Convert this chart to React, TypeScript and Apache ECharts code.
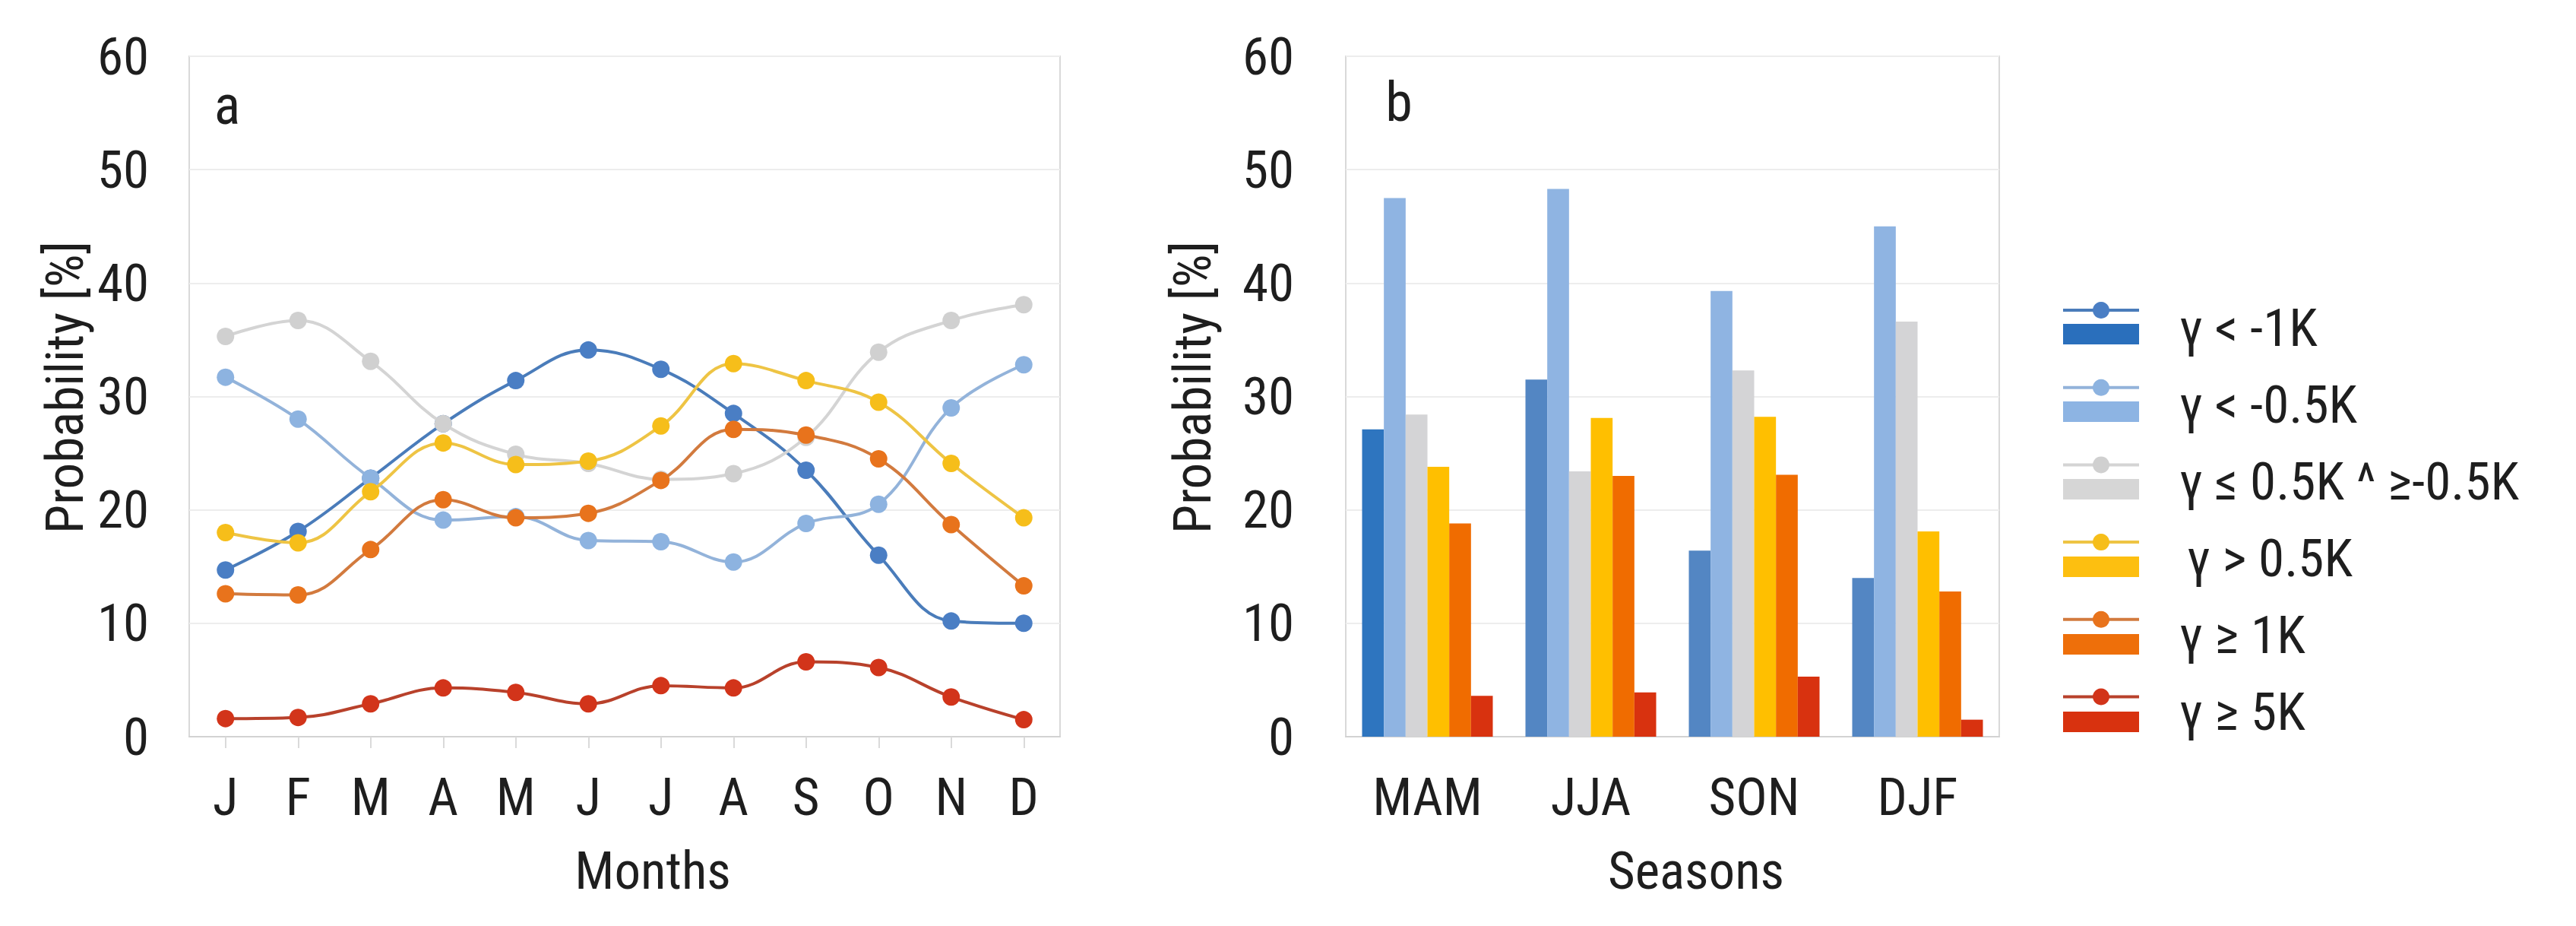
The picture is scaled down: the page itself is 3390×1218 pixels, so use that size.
import React, { useEffect, useRef } from "react";
import * as echarts from "echarts";

// ---------- data ----------
const months = ["J", "F", "M", "A", "M", "J", "J", "A", "S", "O", "N", "D"];
const seasons = ["MAM", "JJA", "SON", "DJF"];
const yTicks = [0, 10, 20, 30, 40, 50, 60];

const seriesNames = [
  "γ < -1K",
  "γ < -0.5K",
  "γ ≤ 0.5K ^ ≥-0.5K",
  "γ > 0.5K",
  "γ ≥ 1K",
  "γ ≥ 5K",
];

// panel a: monthly probabilities [%]
const monthLtMinus1 = [14.7, 18.1, 22.8, 27.6, 31.4, 34.1, 32.4, 28.5, 23.5, 16.0, 10.2, 10.0];
const monthLtMinus05 = [31.7, 28.0, 22.8, 19.1, 19.4, 17.3, 17.2, 15.4, 18.8, 20.5, 29.0, 32.8];
const monthNeutral = [35.3, 36.7, 33.1, 27.6, 24.9, 24.1, 22.7, 23.2, 26.4, 33.9, 36.7, 38.1];
const monthGt05 = [18.0, 17.1, 21.6, 25.9, 24.0, 24.3, 27.4, 32.9, 31.4, 29.5, 24.1, 19.3];
const monthGe1 = [12.6, 12.5, 16.5, 20.9, 19.3, 19.7, 22.6, 27.1, 26.6, 24.5, 18.7, 13.3];
const monthGe5 = [1.6, 1.7, 2.9, 4.3, 3.9, 2.9, 4.5, 4.3, 6.6, 6.1, 3.5, 1.5];

// panel b: seasonal probabilities [%]
const seasonLtMinus1 = [27.1, 31.5, 16.4, 14.0];
const seasonLtMinus05 = [47.5, 48.3, 39.3, 45.0];
const seasonNeutral = [28.4, 23.4, 32.3, 36.6];
const seasonGt05 = [23.8, 28.1, 28.2, 18.1];
const seasonGe1 = [18.8, 23.0, 23.1, 12.8];
const seasonGe5 = [3.6, 3.9, 5.3, 1.5];

const monthData = [monthLtMinus1, monthLtMinus05, monthNeutral, monthGt05, monthGe1, monthGe5];
const seasonData = [seasonLtMinus1, seasonLtMinus05, seasonNeutral, seasonGt05, seasonGe1, seasonGe5];

// ---------- styles ----------
const FONT = "'Liberation Sans Narrow', 'Arial Narrow', 'Roboto Condensed', 'DejaVu Sans Condensed', 'Liberation Sans', sans-serif";
const TEXT = "#1e1e1e";
const FS = 69;

const lineColors = ["#4A7CBA", "#93B3DA", "#D4D4D4", "#EEC444", "#D27A3E", "#B8412B"];
const markerColors = ["#4A7EC4", "#8DB3E0", "#D0D0D0", "#F6BE1A", "#E8731C", "#D2341A"];
const barColors = ["#5386C3", "#8FB4E2", "#D4D4D6", "#FFBF00", "#F06C00", "#D8320F"];
const darkBlueBarShades = ["#2E75BF", "#5386C3", "#5386C3", "#5386C3"];
const legendRectColors = ["#2A6FBC", "#8DB4E3", "#D6D6D6", "#FDBF10", "#EE6F0A", "#D8320F"];

const GRID_A = { left: 249, top: 74, width: 1146, height: 895 };
const GRID_B = { left: 1771, top: 74, width: 860, height: 895 };

function yAxis(gridIndex: number, labelMargin: number, nameGap: number) {
  return {
    type: "value",
    gridIndex,
    min: yTicks[0],
    max: yTicks[yTicks.length - 1],
    interval: yTicks[1] - yTicks[0],
    name: "Probability [%]",
    nameLocation: "middle",
    nameGap,
    nameRotate: 90,
    nameTextStyle: { fontFamily: FONT, fontSize: FS, color: TEXT, padding: [0, 0, 0, 24] },
    axisLine: { show: false },
    axisTick: { show: false },
    axisLabel: {
      fontFamily: FONT,
      fontSize: FS,
      color: TEXT,
      margin: labelMargin,
      padding: [0, 0, 20, 0],
    },
    splitLine: { show: true, lineStyle: { color: "#EDEDED", width: 2 } },
  };
}

function xAxis(gridIndex: number, data: string[], name: string, namePadLeft: number, ticks: boolean) {
  return {
    type: "category",
    gridIndex,
    data,
    boundaryGap: true,
    name,
    nameLocation: "middle",
    nameGap: 142,
    nameTextStyle: { fontFamily: FONT, fontSize: FS, color: TEXT, padding: [0, 0, 0, namePadLeft] },
    axisLine: { show: true, lineStyle: { color: "#D2D2D2", width: 2 } },
    axisTick: ticks
      ? { show: true, alignWithLabel: true, length: 15, lineStyle: { color: "#DADADA", width: 2 } }
      : { show: false },
    axisLabel: { fontFamily: FONT, fontSize: FS, color: TEXT, margin: 45, interval: 0 },
    splitLine: { show: false },
  };
}

function buildLegend() {
  const els: any[] = [];
  const x0 = 2715;
  const w = 100;
  seriesNames.forEach((name, i) => {
    const ly = 408 + 101.7 * i;
    const ry = 426 + 102 * i;
    els.push({
      type: "line",
      shape: { x1: x0, y1: ly, x2: x0 + w, y2: ly },
      style: { stroke: lineColors[i], lineWidth: 4 },
    });
    els.push({
      type: "circle",
      shape: { cx: x0 + w / 2, cy: ly, r: 11 },
      style: { fill: markerColors[i] },
    });
    els.push({
      type: "rect",
      shape: { x: x0, y: ry, width: w, height: 27 },
      style: { fill: legendRectColors[i] },
    });
    els.push({
      type: "text",
      x: i === 3 ? 2878 : 2868,
      y: 431 + 101 * i,
      style: {
        text: name,
        fontFamily: FONT,
        fontSize: FS,
        fill: TEXT,
        verticalAlign: "middle",
        align: "left",
      },
    });
  });
  return els;
}

function buildOption() {
  const lineSeries = seriesNames.map((name, i) => ({
    name,
    type: "line",
    xAxisIndex: 0,
    yAxisIndex: 0,
    data: monthData[i],
    smooth: 0.4,
    symbol: "circle",
    symbolSize: 23,
    showSymbol: true,
    lineStyle: { color: lineColors[i], width: 4 },
    itemStyle: { color: markerColors[i] },
    z: 2 + i,
  }));

  const barSeries = seriesNames.map((name, i) => ({
    name,
    type: "bar",
    xAxisIndex: 1,
    yAxisIndex: 1,
    data:
      i === 0
        ? seasonData[i].map((v, k) => ({ value: v, itemStyle: { color: darkBlueBarShades[k] } }))
        : seasonData[i],
    itemStyle: { color: barColors[i] },
    barGap: "0%",
    barCategoryGap: "20%",
  }));

  return {
    animation: false,
    backgroundColor: "#ffffff",
    textStyle: { fontFamily: FONT },
    grid: [
      { ...GRID_A, show: true, borderColor: "#D9D9D9", borderWidth: 2, backgroundColor: "transparent" },
      { ...GRID_B, show: true, borderColor: "#D9D9D9", borderWidth: 2, backgroundColor: "transparent" },
    ],
    xAxis: [xAxis(0, months, "Months", 74, true), xAxis(1, seasons, "Seasons", 62, false)],
    yAxis: [yAxis(0, 53, 129), yAxis(1, 68, 167)],
    series: [...lineSeries, ...barSeries],
    graphic: [
      {
        type: "text",
        x: 299,
        y: 138,
        style: { text: "a", fontFamily: FONT, fontSize: 72, fill: TEXT, align: "center", verticalAlign: "middle" },
      },
      {
        type: "text",
        x: 1841,
        y: 134,
        style: { text: "b", fontFamily: FONT, fontSize: 72, fill: TEXT, align: "center", verticalAlign: "middle" },
      },
      ...buildLegend(),
    ],
  };
}

export default function App() {
  const ref = useRef<HTMLDivElement>(null);
  useEffect(() => {
    if (!ref.current) return;
    const chart = echarts.init(ref.current, null, { renderer: "svg", width: 3390, height: 1218 });
    chart.setOption(buildOption() as any);
    return () => chart.dispose();
  }, []);
  return (
    <div
      ref={ref}
      style={{ position: "absolute", left: 0, top: 0, width: 3390, height: 1218, background: "#ffffff" }}
    />
  );
}
